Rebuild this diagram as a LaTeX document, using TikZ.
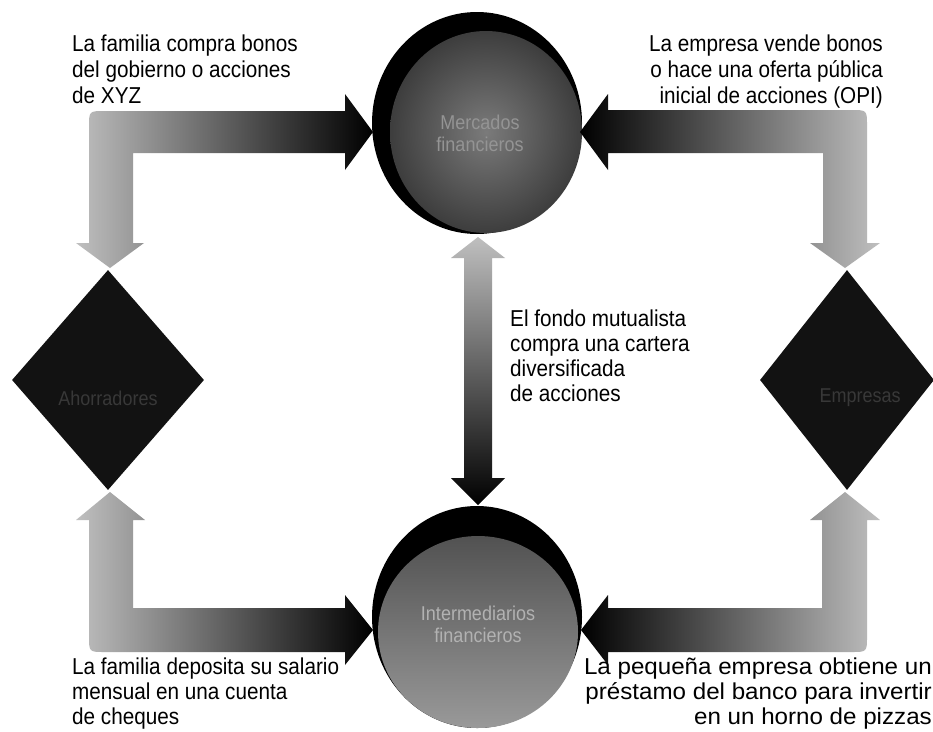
\documentclass[tikz,border=0pt]{standalone}
\usepackage{fontspec}
\setmainfont{Liberation Sans}
\usetikzlibrary{shapes.geometric,calc}
\newcommand{\nx}[1]{\scalebox{0.9}[1]{#1}}
\newcommand{\wx}[1]{\scalebox{1.05}[1]{#1}}
\begin{document}
\begin{tikzpicture}[x=1pt,y=-1pt,
  lbl/.style={inner sep=0pt, font=\fontsize{23}{26}\selectfont, text=black},
  lowlbl/.style={inner sep=0pt, font=\fontsize{23}{25}\selectfont, text=black},
  midlbl/.style={inner sep=0pt, font=\fontsize{23}{25}\selectfont, text=black},
  hub/.style={ellipse, minimum width=210pt, minimum height=222pt, inner sep=0pt, fill=black},
  hubtext/.style={inner sep=0pt, align=center, font=\fontsize{20}{22}\selectfont, text=black!42},
  agent/.style={diamond, inner sep=0pt, minimum height=220pt, fill=black!93},
  agenttext/.style={inner sep=0pt, font=\fontsize{20}{22}\selectfont, text=black!78},
  toright/.style={left color=black!25, right color=black},
  toleft/.style={left color=black, right color=black!25},
  updown/.style={top color=black!25, bottom color=black}
]
\useasboundingbox (0,0) rectangle (933,731);
\fill[white] (0,0) rectangle (933,731);

% hubs
\node[hub] (fm) at (477,123) {};
\shade[inner color=black!52, outer color=black!76] ($(fm.center)+(9,9)$) ellipse [x radius=96, y radius=101];
\node[hubtext] (fmt) at (480,133) {\nx{Mercados}\\\nx{financieros}};

\node[hub] (im) at (477,617) {};
\shade[top color=black!68, bottom color=black!40] ($(im.center)+(1,15)$) ellipse [x radius=100, y radius=96];
\node[hubtext, text=black!30] (imt) at (478,624) {\nx{Intermediarios}\\\nx{financieros}};

% agents
\node[agent, minimum width=192pt] (fam) at (108,380) {};
\node[agenttext] (famt) at (108,398) {\nx{Ahorradores}};
\node[agent, minimum width=174pt] (emp) at (847,380) {};
\node[agenttext] (empt) at (860,398) {\nx{Empresas}};

% top-left flow
\shade[toright] (133,243) -- (144,243) -- (110,268) -- (76,243) -- (89,243)
  -- (89,127) .. controls (89,111) .. (105,111) -- (345,111) -- (345,94)
  -- (373,132) -- (345,170) -- (345,153) -- (133,153) -- cycle;
% top-right flow
\shade[toleft] (823,243) -- (810,243) -- (845,268) -- (880,243) -- (867,243)
  -- (867,126) .. controls (867,110) .. (851,110) -- (608,110) -- (608,94)
  -- (580,132) -- (608,170) -- (608,153) -- (823,153) -- cycle;
% bottom-left flow
\shade[toright] (133,520) -- (145,520) -- (110,492) -- (76,520) -- (89,520)
  -- (89,636) .. controls (89,652) .. (105,652) -- (345,652) -- (345,665)
  -- (373,630) -- (345,595) -- (345,608) -- (133,608) -- cycle;
% bottom-right flow
\shade[toleft] (822,520) -- (810,520) -- (845,492) -- (880,520) -- (867,520)
  -- (867,636) .. controls (867,652) .. (851,652) -- (608,652) -- (608,665)
  -- (581,630) -- (608,595) -- (608,608) -- (822,608) -- cycle;
% central double arrow
\shade[updown] (478,237) -- (505,258) -- (492,258) -- (492,478) -- (505,478)
  -- (478,505) -- (451,478) -- (464,478) -- (464,258) -- (451,258) -- cycle;

% labels
\node[lbl, anchor=north west, align=left] (l1) at (72,35)
  {\nx{La familia compra bonos}\\\nx{del gobierno o acciones}\\\nx{de XYZ}};
\node[lbl, anchor=north east, align=right] (l2) at (883,35)
  {\nx{La empresa vende bonos}\\\nx{o hace una oferta pública}\\\nx{inicial de acciones (OPI)}};
\node[midlbl, anchor=north west, align=left] (l3) at (510,310)
  {\nx{El fondo mutualista}\\\nx{compra una cartera}\\\nx{diversificada}\\\nx{de acciones}};
\node[lowlbl, anchor=north west, align=left] (l4) at (72,658)
  {\nx{La familia deposita su salario}\\\nx{mensual en una cuenta}\\\nx{de cheques}};
\node[lowlbl, anchor=north east, align=right] (l5) at (932,658)
  {\wx{La pequeña empresa obtiene un}\\\wx{préstamo del banco para invertir}\\\wx{en un horno de pizzas}};
\end{tikzpicture}
\end{document}
